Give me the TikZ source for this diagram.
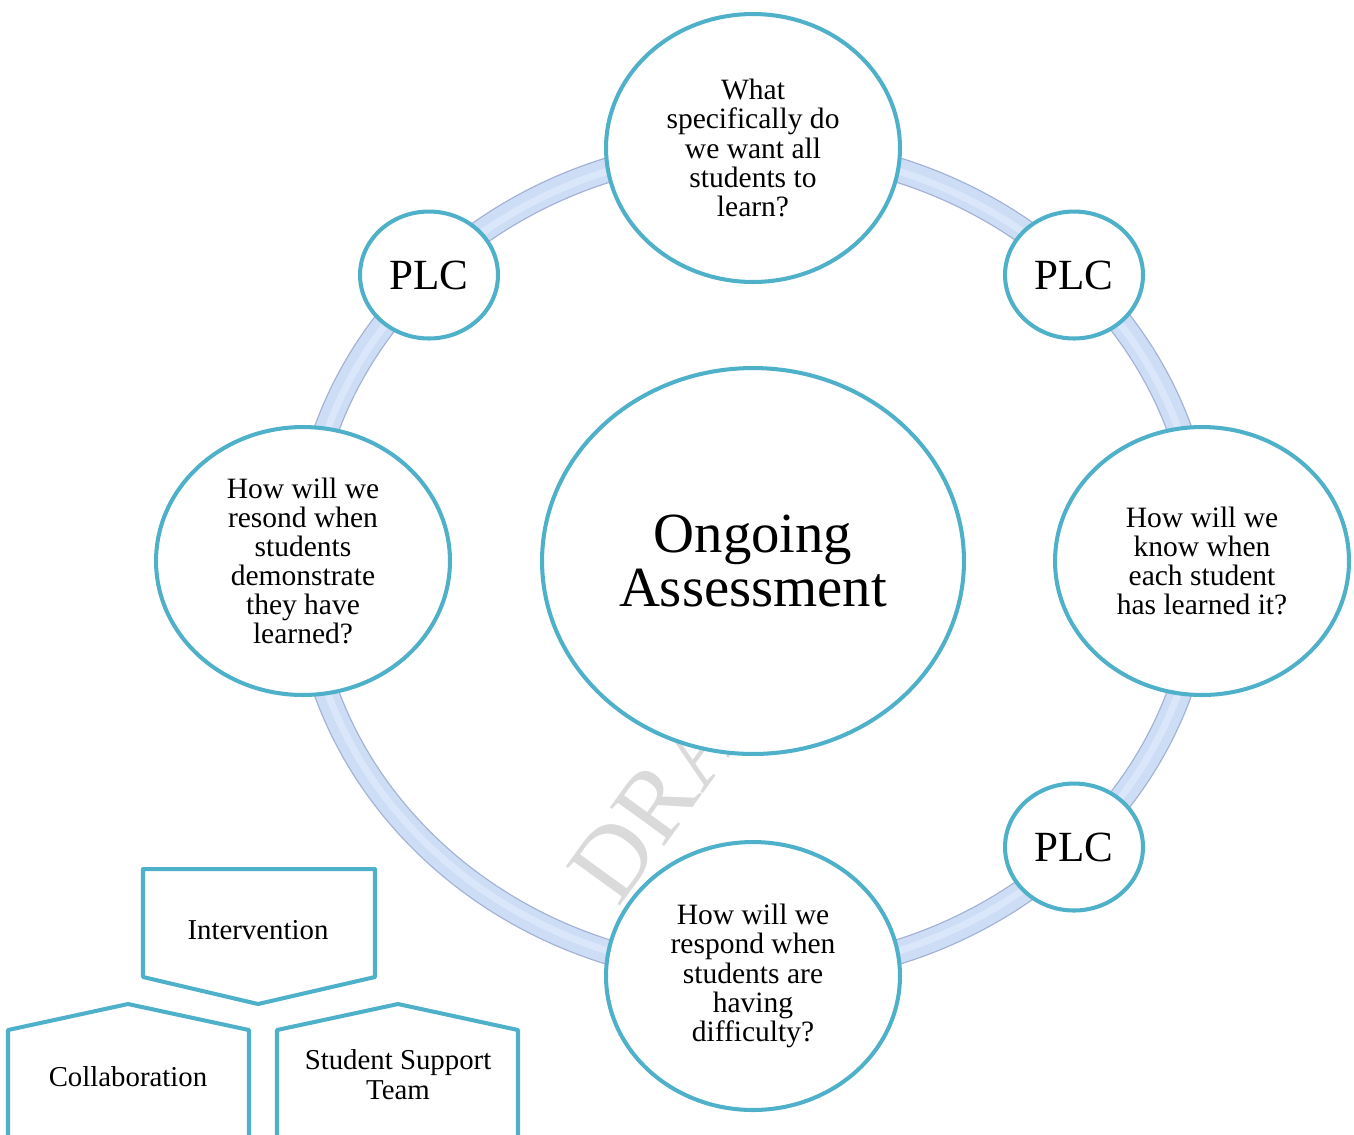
\documentclass[tikz,border=0pt]{standalone}
\usepackage{fontspec}
\setmainfont{Liberation Serif}
\usetikzlibrary{shapes.geometric}

\definecolor{rim}{HTML}{4EB0C9}
\definecolor{tubedark}{HTML}{A4B3D4}
\definecolor{tube}{HTML}{CEDDF6}
\definecolor{tubelight}{HTML}{DAE6F9}
\definecolor{wmark}{HTML}{DADADA}

\begin{document}
\begin{tikzpicture}[x=0.02cm, y=-0.02cm, line join=round,
    ask/.style = {draw=rim, line width=2.3pt, fill=white, ellipse, inner sep=0pt,
      minimum width=5.88cm, minimum height=5.36cm, align=center,
      font=\fontsize{16.8}{16.6}\selectfont},
    hub/.style = {ask, minimum width=8.44cm, minimum height=7.72cm,
      font=\fontsize{32.3}{30.5}\selectfont},
    plc/.style = {ask, minimum width=2.76cm, minimum height=2.54cm,
      font=\fontsize{24.5}{26}\selectfont},
    tab/.style = {draw=rim, line width=2.3pt},
    tabtext/.style = {align=center, font=\fontsize{16.4}{17}\selectfont}]
    \useasboundingbox (0,0) rectangle (1354,1134);
    \clip (0,0) rectangle (1354,1134);

    % watermark under everything
    \node[wmark, rotate=54, font=\fontsize{58}{58}\selectfont] (wm) at (690,754) {DRAFT};

    % the ring
    \draw[tubedark, line width=14.5pt] (753,561) ellipse [x radius=9cm, y radius=8.26cm];
    \draw[tube, line width=13pt] (753,561) ellipse [x radius=9cm, y radius=8.26cm];
    \draw[tubelight, line width=4pt] (753,561) ellipse [x radius=8.98cm, y radius=8.24cm];

    \node[hub] (mid) at (753,561) {Ongoing\\Assessment};
    \node[ask] (q1) at (753,148) {What\\specifically do\\we want all\\students to\\learn?};
    \node[ask] (q2) at (1202,561) {How will we\\know when\\each student\\has learned it?};
    \node[ask] (q3) at (753,976) {How will we\\respond when\\students are\\having\\difficulty?};
    \node[ask] (q4) at (303,561) {How will we\\resond when\\students\\demonstrate\\they have\\learned?};
    \node[plc] (p1) at (429,275) {PLC};
    \node[plc] (p2) at (1074,275) {PLC};
    \node[plc] (p3) at (1074,847) {PLC};

    % three tabs, bottom left
    \draw[tab] (143,869) -- (375,869) -- (375,977) -- (258,1004) -- (143,977) -- cycle;
    \draw[tab] (8,1160) -- (8,1030) -- (128,1004) -- (249,1030) -- (249,1160);
    \draw[tab] (277,1160) -- (277,1030) -- (398,1004) -- (518,1030) -- (518,1160);
    \node[tabtext] (interv) at (258,930) {Intervention};
    \node[tabtext] (collab) at (128,1077) {Collaboration};
    \node[tabtext] (sst) at (398,1075) {Student Support\\Team};
\end{tikzpicture}
\end{document}
